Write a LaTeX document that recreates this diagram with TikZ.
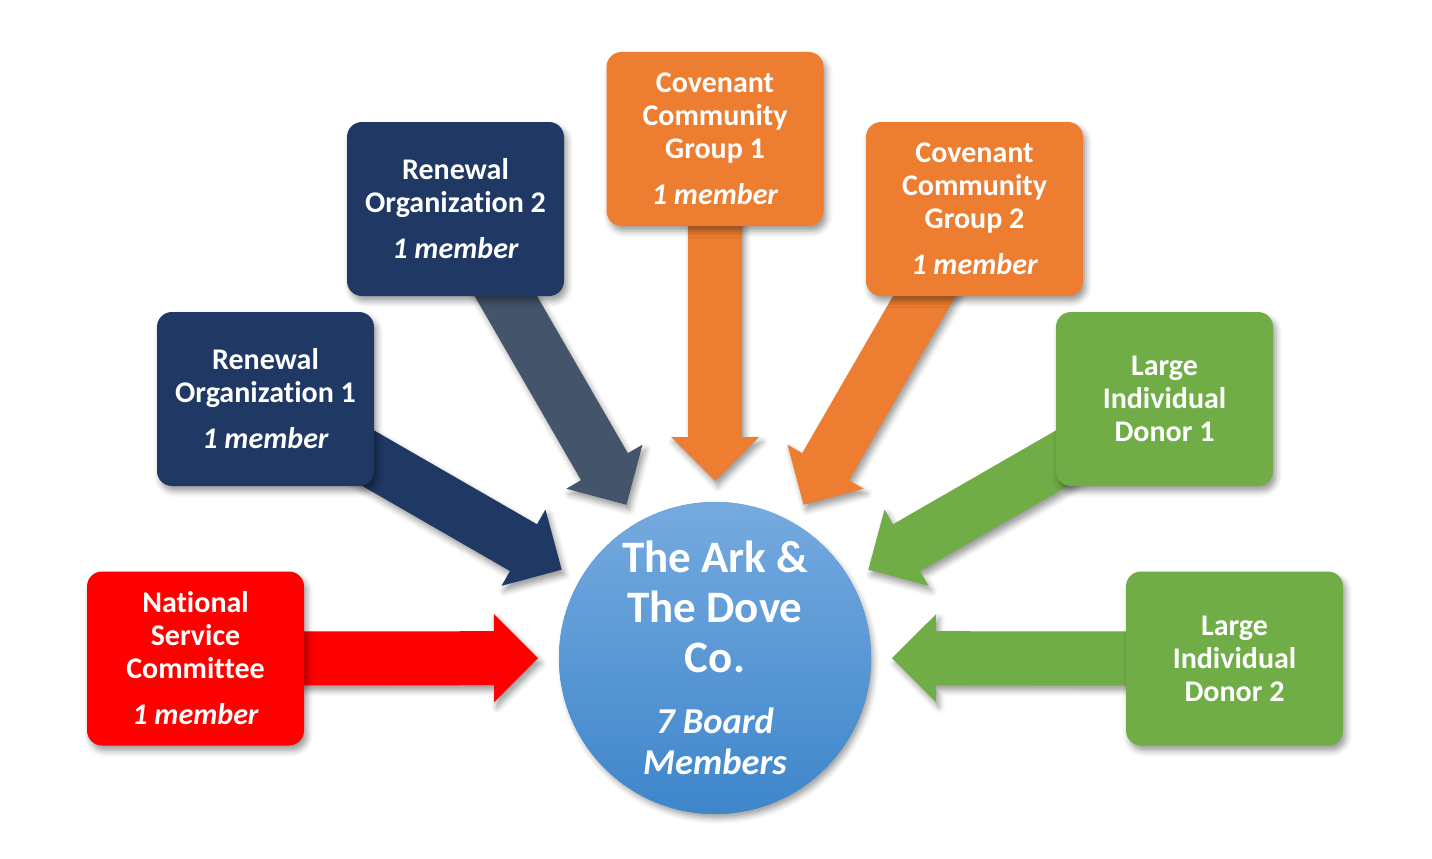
\documentclass[tikz,border=0pt]{standalone}
\usepackage{fontspec}
\setmainfont{Carlito}[Ligatures={NoCommon}]
\usetikzlibrary{calc,shadows.blur}
\definecolor{navy}{HTML}{1F3864}
\definecolor{slate}{HTML}{44546A}
\definecolor{orng}{HTML}{ED7D31}
\definecolor{grn}{HTML}{70AD47}
\definecolor{redd}{HTML}{FF0000}
\definecolor{circtop}{HTML}{75AADF}
\definecolor{circbot}{HTML}{3F86CB}
\pgfdeclarelayer{bg}
\pgfdeclarelayer{arrows}
\pgfsetlayers{bg,arrows,main}
\tikzset{
  softshadow/.style={blur shadow={shadow xshift=3pt, shadow yshift=-5pt, shadow blur radius=6pt, shadow opacity=40}},
  box/.style={rectangle, rounded corners=15pt, minimum width=217pt, minimum height=174pt,
    text=white, align=center, font=\fontsize{30}{33}\selectfont\bfseries, softshadow},
  titletext/.style={text=white, align=center, font=\fontsize{45}{50}\selectfont\bfseries},
  subtext/.style={text=white, align=center, font=\fontsize{36.5}{41}\selectfont\bfseries\itshape},
  bandfill/.style={fill=circbot, path picture={%
    \foreach \i in {0,...,51}{%
      \pgfmathsetmacro\pc{100-\i*100/51}%
      \fill[circtop!\pc!circbot] ($(path picture bounding box.north west)+(0,6*\i)$) rectangle ++(320,6.6);
    }}},
}
\newcommand{\blockarrow}[2]{%
  \coordinate (tip) at ($(ark.center)!177pt!(#1.center)$);
  \coordinate (hb) at ($(ark.center)!221pt!(#1.center)$);
  \fill[#2, softshadow] ($(#1.center)!27pt!90:(ark.center)$) -- ($(hb)!27pt!90:(ark.center)$)
    -- ($(hb)!44pt!90:(ark.center)$) -- (tip) -- ($(hb)!44pt!-90:(ark.center)$)
    -- ($(hb)!27pt!-90:(ark.center)$) -- ($(#1.center)!27pt!-90:(ark.center)$) -- cycle;
}
\begin{document}
\begin{tikzpicture}[x=1pt,y=-1pt]
\begin{pgfonlayer}{bg}
\fill[white] (0,0) rectangle (1432,859);
\end{pgfonlayer}
\useasboundingbox (0,0) rectangle (1432,859);

% hidden primer for the blur-shadow fading (covered by the red box)
\fill[redd, softshadow] (110,620) rectangle (111,621);

\node[box, fill=redd] (nsc) at (195.5,658.5) {National\\Service\\Committee\\[13pt]{\itshape 1 member}};
\node[box, fill=navy] (ro1) at (265.5,399) {Renewal\\Organization 1\\[13pt]{\itshape 1 member}};
\node[box, fill=navy] (ro2) at (455.5,209) {Renewal\\Organization 2\\[13pt]{\itshape 1 member}};
\node[box, fill=orng] (cc1) at (715,139) {Covenant\\Community\\Group 1\\[13pt]{\itshape 1 member}};
\node[box, fill=orng] (cc2) at (974.5,209) {Covenant\\Community\\Group 2\\[13pt]{\itshape 1 member}};
\node[box, fill=grn] (ld1) at (1164.5,399) {Large\\Individual\\Donor 1};
\node[box, fill=grn] (ld2) at (1234.5,658.5) {Large\\Individual\\Donor 2};

\node[circle, minimum size=312pt, bandfill] (ark) at (715,658) {};
\node[titletext] (arkt) at (715,607) {The Ark \&\\The Dove\\Co.};
\node[subtext] (arkm) at (715,741) {7 Board\\Members};

\begin{pgfonlayer}{arrows}
\fill[circbot, softshadow] (ark.center) circle (155);
\blockarrow{nsc}{redd}
\blockarrow{ro1}{navy}
\blockarrow{ro2}{slate}
\blockarrow{cc1}{orng}
\blockarrow{cc2}{orng}
\blockarrow{ld1}{grn}
\blockarrow{ld2}{grn}
\end{pgfonlayer}
\end{tikzpicture}
\end{document}
